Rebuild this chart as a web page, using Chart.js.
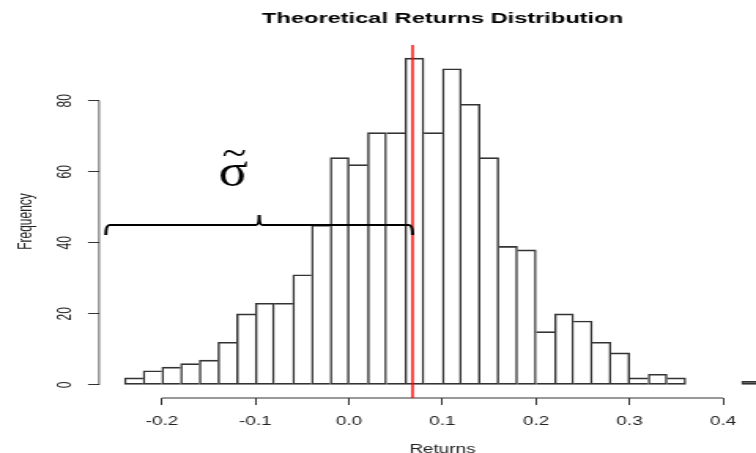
<!DOCTYPE html>
<html>
<head>
<meta charset="utf-8">
<title>Theoretical Returns Distribution</title>
<script src="https://cdn.jsdelivr.net/npm/chart.js@4"></script>
<style>
    html, body { margin: 0; padding: 0; overflow: hidden; background: #fff; }
    /* the reference is an R plot stretched sideways, so the canvas is too */
    #wrap { width: 508px; height: 453px; transform: scaleX(1.575); transform-origin: 0 0; }
</style>
</head>
<body>
<div id="wrap"><canvas id="histChart" width="508" height="453"></canvas></div>
<script>
// Histogram bins (0.02 wide) and their counts
const binMids = [-0.23, -0.21, -0.19, -0.17, -0.15, -0.13, -0.11, -0.09, -0.07, -0.05,
    -0.03, -0.01, 0.01, 0.03, 0.05, 0.07, 0.09, 0.11, 0.13, 0.15,
    0.17, 0.19, 0.21, 0.23, 0.25, 0.27, 0.29, 0.31, 0.33, 0.35,
    0.37, 0.39, 0.41, 0.43];
const counts = [2, 4, 5, 6, 7, 12, 20, 23, 23, 31,
    45, 64, 62, 71, 71, 92, 71, 89, 79, 64,
    39, 38, 15, 20, 18, 12, 9, 2, 3, 2,
    0, 0, 0, 1];

const xTickValues = [-0.2, -0.1, 0.0, 0.1, 0.2, 0.3, 0.4];
const yTickValues = [0, 20, 40, 60, 80];
const xRange = [-0.2672, 0.4672];
const yRange = [-3.68, 95.68];

// Annotations: mean line, brace and sigma label
const meanReturn = 0.068;
const braceFrom = -0.26;
const braceLevel = 45;
const sigmaAt = [-0.124, 56];

const fontFamily = '"Liberation Sans", Arial, sans-serif';
const edge = 0.8;

// a shared side between two bars is drawn once, by the taller bar
function barBorder(context) {
    const i = context.dataIndex;
    const c = counts[i];
    const prev = i > 0 ? counts[i - 1] : 0;
    const next = i < counts.length - 1 ? counts[i + 1] : 0;
    return {
        top: 1,
        bottom: 1,
        left: c > prev ? edge : 0,
        right: c >= next ? edge : 0
    };
}

const annotations = {
    id: 'annotations',
    afterDatasetsDraw(chart) {
        const { ctx, chartArea, scales: { x, y } } = chart;
        ctx.save();

        // R style axis lines, only between first and last tick
        ctx.strokeStyle = '#333';
        ctx.lineWidth = 0.8;
        ctx.beginPath();
        ctx.moveTo(chartArea.left, y.getPixelForValue(yTickValues[0]));
        ctx.lineTo(chartArea.left, y.getPixelForValue(yTickValues[yTickValues.length - 1]));
        ctx.stroke();
        ctx.lineWidth = 1;
        ctx.beginPath();
        ctx.moveTo(x.getPixelForValue(xTickValues[0]), chartArea.bottom);
        ctx.lineTo(x.getPixelForValue(xTickValues[xTickValues.length - 1]), chartArea.bottom);
        ctx.stroke();

        // mean line
        const xm = x.getPixelForValue(meanReturn);
        ctx.strokeStyle = '#ff0000';
        ctx.lineWidth = 1.4;
        ctx.beginPath();
        ctx.moveTo(xm, chartArea.top);
        ctx.lineTo(xm, chartArea.bottom);
        ctx.stroke();

        // brace
        const xl = x.getPixelForValue(braceFrom);
        const xr = xm;
        const xc = (xl + xr) / 2;
        const yb = y.getPixelForValue(braceLevel);
        ctx.strokeStyle = '#000';
        ctx.lineWidth = 2;
        ctx.beginPath();
        ctx.moveTo(xl, yb + 10);
        ctx.quadraticCurveTo(xl, yb, xl + 2.5, yb);
        ctx.lineTo(xc - 2, yb);
        ctx.quadraticCurveTo(xc, yb, xc, yb - 10);
        ctx.quadraticCurveTo(xc, yb, xc + 2, yb);
        ctx.lineTo(xr - 2.5, yb);
        ctx.quadraticCurveTo(xr, yb, xr, yb + 10);
        ctx.stroke();

        // sigma with a tilde on top
        ctx.translate(x.getPixelForValue(sigmaAt[0]), y.getPixelForValue(sigmaAt[1]));
        ctx.scale(0.75, 1);
        ctx.fillStyle = '#000';
        ctx.textAlign = 'center';
        ctx.textBaseline = 'alphabetic';
        ctx.font = '46px "Liberation Serif", serif';
        ctx.fillText('\u03C3', 0, 0);
        ctx.font = '38px "Liberation Serif", serif';
        ctx.fillText('~', 1, -21);

        ctx.restore();
    }
};

const ctx = document.getElementById('histChart').getContext('2d');
new Chart(ctx, {
    type: 'bar',
    data: {
        datasets: [{
            data: binMids.map((m, i) => ({ x: m, y: counts[i] })),
            backgroundColor: 'rgba(255,255,255,0)',
            borderColor: '#333333',
            borderWidth: barBorder,
            borderSkipped: false,
            barPercentage: 1,
            categoryPercentage: 1
        }]
    },
    options: {
        responsive: false,
        animation: false,
        layout: { padding: { left: 0, right: 9, top: 0, bottom: 0 } },
        plugins: {
            legend: { display: false },
            tooltip: { enabled: false },
            title: {
                display: true,
                text: 'Theoretical Returns Distribution',
                fullSize: false,
                color: '#000',
                font: { family: fontFamily, size: 15, weight: 'bold' },
                padding: { top: 10, bottom: 17 }
            }
        },
        scales: {
            x: {
                type: 'linear',
                min: xRange[0],
                max: xRange[1],
                offset: false,
                border: { display: false },
                grid: { display: true, drawOnChartArea: false, drawTicks: true, tickLength: 7, color: '#333', offset: false },
                ticks: {
                    color: '#222',
                    font: { family: fontFamily, size: 12 },
                    padding: 9,
                    maxRotation: 0,
                    autoSkip: false,
                    callback: value => value.toFixed(1)
                },
                afterBuildTicks: scale => { scale.ticks = xTickValues.map(v => ({ value: v })); },
                afterFit: scale => { scale.height = 55; },
                title: {
                    display: true,
                    text: 'Returns',
                    color: '#222',
                    font: { family: fontFamily, size: 12 },
                    padding: { top: 0, bottom: -4 }
                }
            },
            y: {
                min: yRange[0],
                max: yRange[1],
                border: { display: false },
                grid: { display: true, drawOnChartArea: false, drawTicks: true, tickLength: 7, color: '#333' },
                ticks: {
                    color: '#222',
                    font: { family: fontFamily, size: 12 },
                    padding: 8,
                    minRotation: 90,
                    maxRotation: 90,
                    crossAlign: 'center',
                    autoSkip: false
                },
                afterBuildTicks: scale => { scale.ticks = yTickValues.map(v => ({ value: v })); },
                afterFit: scale => { scale.width = 62.9; },
                title: {
                    display: true,
                    text: 'Frequency',
                    color: '#222',
                    font: { family: fontFamily, size: 12 },
                    padding: { top: 9.5, bottom: 0 }
                }
            }
        }
    },
    plugins: [annotations]
});
</script>
</body>
</html>
